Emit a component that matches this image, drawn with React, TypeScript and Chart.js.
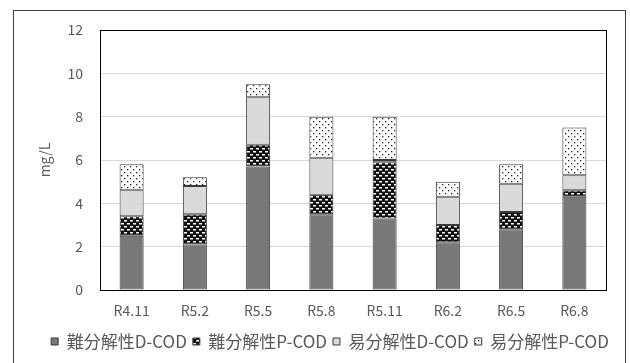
import React, { useEffect, useRef } from "react";
import { Chart, registerables } from "chart.js";

Chart.register(...registerables);

const categories = ["R4.11", "R5.2", "R5.5", "R5.8", "R5.11", "R6.2", "R6.5", "R6.8"];
const hardD = [2.5, 2.1, 5.7, 3.5, 3.3, 2.2, 2.8, 4.3];
const hardP = [0.9, 1.4, 1.0, 0.9, 2.6, 0.8, 0.8, 0.3];
const easyD = [1.2, 1.3, 2.2, 1.7, 0.1, 1.3, 1.3, 0.7];
const easyP = [1.2, 0.4, 0.6, 1.9, 2.0, 0.7, 0.9, 2.2];
const seriesNames = ["難分解性D-COD", "難分解性P-COD", "易分解性D-COD", "易分解性P-COD"];
const yTicks = [0, 2, 4, 6, 8, 10, 12];

const FONT = "'Noto Sans CJK JP', 'Noto Sans', sans-serif";

function makeHardPattern(): CanvasPattern | string {
  const c = document.createElement("canvas");
  c.width = 6;
  c.height = 6;
  const ctx = c.getContext("2d");
  if (!ctx) return "#000";
  ctx.fillStyle = "#111";
  ctx.fillRect(0, 0, 6, 6);
  ctx.fillStyle = "#fff";
  ctx.fillRect(1, 1, 3, 1.5);
  ctx.fillRect(4, 4, 3, 1.5);
  ctx.fillRect(-2, 4, 3, 1.5);
  const p = ctx.createPattern(c, "repeat");
  return p || "#000";
}

function makeEasyPattern(): CanvasPattern | string {
  const c = document.createElement("canvas");
  c.width = 6;
  c.height = 6;
  const ctx = c.getContext("2d");
  if (!ctx) return "#fff";
  ctx.fillStyle = "#fff";
  ctx.fillRect(0, 0, 6, 6);
  ctx.fillStyle = "#222";
  ctx.fillRect(1, 1, 1.3, 1.3);
  ctx.fillRect(4, 4, 1.3, 1.3);
  const p = ctx.createPattern(c, "repeat");
  return p || "#fff";
}

const framePlugin = {
  id: "plotFrame",
  afterLayout(chart: any) {
    const lg = chart.legend;
    if (lg) {
      lg.left += 9;
      lg.right += 9;
    }
  },
  beforeDatasetsDraw(chart: any) {
    const { ctx, chartArea } = chart;
    ctx.save();
    ctx.strokeStyle = "#000";
    ctx.lineWidth = 1;
    ctx.strokeRect(
      Math.round(chartArea.left) + 0.5,
      Math.round(chartArea.top) + 0.5,
      Math.round(chartArea.right - chartArea.left),
      Math.round(chartArea.bottom - chartArea.top)
    );
    ctx.restore();
  },
};

export default function App() {
  const ref = useRef<HTMLCanvasElement | null>(null);

  useEffect(() => {
    if (!ref.current) return;
    const hardPat = makeHardPattern();
    const easyPat = makeEasyPattern();
    const border = "#3a3a3a";
    const common = {
      borderColor: border,
      borderWidth: 1,
      borderSkipped: false as const,
      barPercentage: 0.38,
      categoryPercentage: 1,
    };
    const chart = new Chart(ref.current, {
      type: "bar",
      data: {
        labels: categories,
        datasets: [
          { label: seriesNames[0], data: hardD, backgroundColor: "#77787a", ...common },
          { label: seriesNames[1], data: hardP, backgroundColor: hardPat as any, ...common },
          { label: seriesNames[2], data: easyD, backgroundColor: "#d9dadb", ...common },
          { label: seriesNames[3], data: easyP, backgroundColor: easyPat as any, ...common },
        ],
      },
      options: {
        responsive: false,
        animation: false,
        layout: { padding: { left: 36, right: 24, top: 30, bottom: 3 } },
        plugins: {
          tooltip: { enabled: false },
          legend: {
            position: "bottom",
            labels: {
              boxWidth: 7,
              boxHeight: 7,
              padding: 6,
              color: "#595959",
              font: { family: FONT, size: 17 },
            },
          },
        },
        scales: {
          x: {
            stacked: true,
            grid: { display: false, drawTicks: false },
            border: { display: true, color: "#000", width: 1 },
            ticks: { color: "#595959", font: { family: FONT, size: 14 }, padding: 12 },
            afterFit: (s: any) => {
              s.height = 37;
            },
          },
          y: {
            stacked: true,
            min: 0,
            max: 12,
            afterBuildTicks: (s: any) => {
              s.ticks = yTicks.map((v) => ({ value: v }));
            },
            grid: { color: "#d9d9d9", lineWidth: 1, drawTicks: false },
            border: { display: true, color: "#000", width: 1 },
            ticks: { color: "#595959", font: { family: FONT, size: 14 }, padding: 17 },
            title: {
              display: true,
              text: "mg/L",
              color: "#595959",
              font: { family: FONT, size: 14 },
              padding: 0,
            },
            afterFit: (s: any) => {
              s.width = 64;
            },
          },
        },
      },
      plugins: [framePlugin],
    });
    return () => chart.destroy();
  }, []);

  return (
    <div
      style={{
        position: "absolute",
        left: 0,
        top: 0,
        width: 630,
        height: 363,
        background: "#fff",
        overflow: "hidden",
      }}
    >
      <div
        style={{
          position: "absolute",
          left: 13,
          top: 10,
          width: 611,
          height: 400,
          border: "1px solid #404040",
        }}
      />
      <canvas ref={ref} width={630} height={363} style={{ position: "absolute", left: 0, top: 0 }} />
    </div>
  );
}
